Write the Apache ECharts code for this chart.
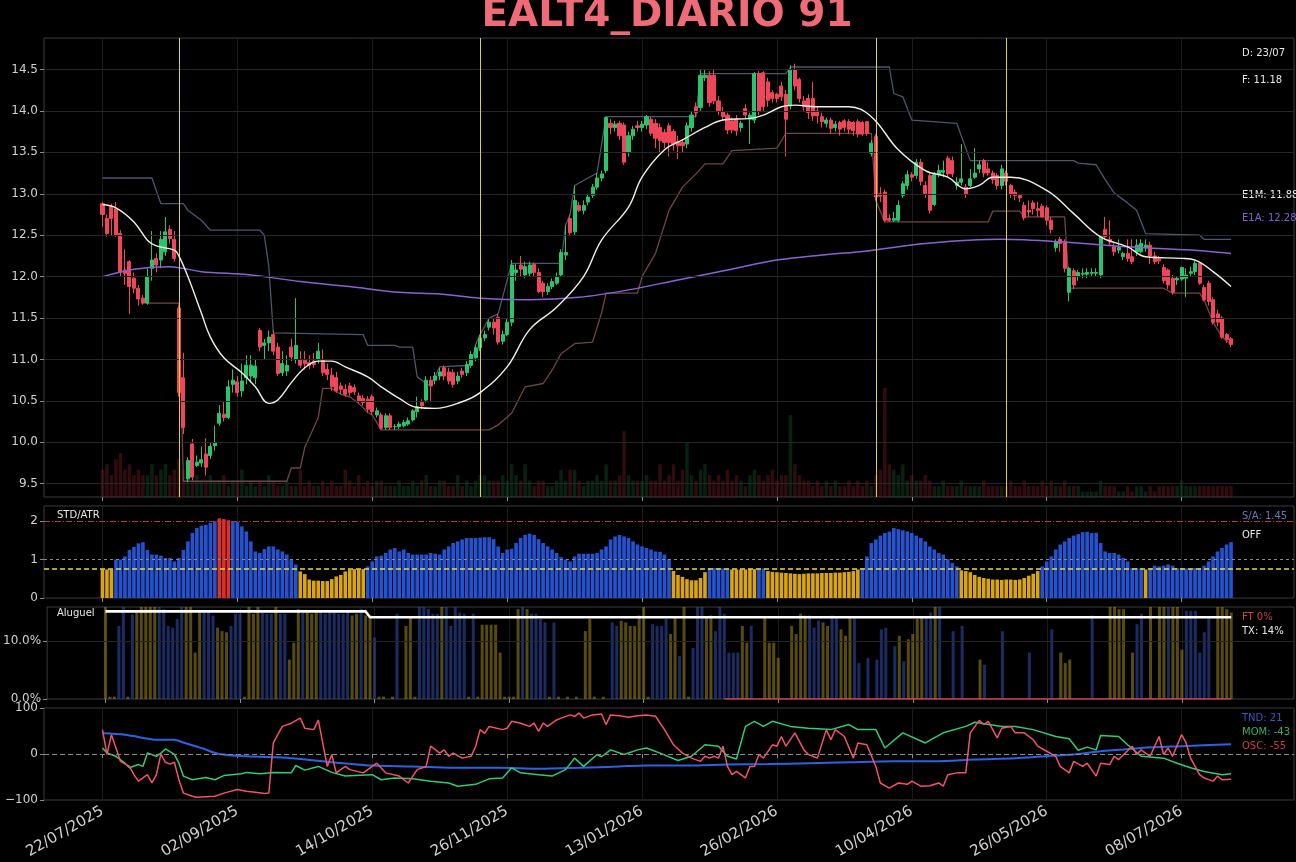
<!DOCTYPE html>
<html>
<head>
<meta charset="utf-8">
<script src="https://cdn.jsdelivr.net/npm/echarts@6/dist/echarts.min.js"></script>
<style>
html, body { margin: 0; padding: 0; background: #000; }
#main { width: 1296px; height: 862px; }
</style>
</head>
<body>
<div id="main"></div>
<script>
// feriados que a B3 pulou no periodo
var feriados = ['2025-11-20','2025-12-24','2025-12-25','2025-12-31','2026-01-01',
    '2026-02-16','2026-02-17','2026-04-03','2026-04-21','2026-05-01','2026-06-04'];
var inicio = '2025-07-22';
var nBarras = 252;

// [abertura, fechamento, minima, maxima]
var candles = [
    [12.88,12.75,12.60,12.90],[12.70,12.52,12.48,12.75],[12.85,12.70,12.50,12.88],[12.82,12.50,12.48,12.90],[12.52,12.05,12.00,12.56],
    [12.08,12.04,11.90,12.33],[12.18,11.88,11.55,12.20],[11.98,11.86,11.80,12.05],[11.86,11.73,11.65,11.90],[11.74,11.68,11.66,11.78],
    [11.68,12.00,11.66,12.10],[12.10,12.20,11.95,12.55],[12.22,12.14,12.05,12.28],[12.20,12.45,12.10,12.55],[12.30,12.54,12.25,12.72],
    [12.57,12.46,12.40,12.62],[12.45,12.22,12.18,12.55],[11.62,10.60,10.55,11.65],[10.78,10.18,10.10,11.08],[9.56,9.78,9.52,9.82],
    [9.98,9.58,9.54,10.04],[9.72,9.76,9.70,9.84],[9.75,9.79,9.70,9.95],[9.86,9.70,9.60,10.05],[9.84,9.95,9.80,10.00],
    [9.96,10.00,9.90,10.20],[10.23,10.35,10.20,10.45],[10.34,10.30,10.25,10.50],[10.30,10.67,10.28,10.75],[10.70,10.75,10.60,10.88],
    [10.73,10.60,10.55,10.80],[10.62,10.74,10.55,10.95],[10.78,10.93,10.70,11.05],[10.80,10.93,10.72,11.05],[10.78,10.92,10.70,11.00],
    [11.35,11.15,11.10,11.38],[11.17,11.20,11.00,11.25],[11.20,11.27,11.10,11.35],[11.30,11.10,11.05,11.35],[11.15,10.83,10.80,11.20],
    [10.84,10.95,10.80,11.10],[10.86,10.93,10.80,11.05],[11.15,11.03,10.98,11.25],[11.00,11.17,10.95,11.74],[11.00,10.93,10.90,11.10],
    [10.99,10.95,10.88,11.10],[10.96,10.93,10.88,11.05],[10.98,10.94,10.90,11.08],[11.00,11.10,10.95,11.20],[11.00,10.84,10.80,11.12],
    [10.88,10.82,10.75,10.95],[10.81,10.67,10.62,10.90],[10.78,10.62,10.60,10.85],[10.68,10.64,10.58,10.72],[10.64,10.58,10.55,10.70],
    [10.68,10.60,10.56,10.72],[10.66,10.61,10.57,10.70],[10.56,10.50,10.47,10.60],[10.53,10.48,10.44,10.57],[10.52,10.40,10.36,10.56],
    [10.55,10.37,10.33,10.58],[10.33,10.38,10.30,10.42],[10.33,10.17,10.15,10.36],[10.18,10.32,10.15,10.35],[10.32,10.18,10.15,10.35],
    [10.19,10.19,10.15,10.22],[10.19,10.22,10.16,10.25],[10.20,10.24,10.18,10.27],[10.22,10.26,10.20,10.30],[10.27,10.38,10.25,10.40],
    [10.37,10.43,10.30,10.55],[10.48,10.44,10.40,10.52],[10.51,10.75,10.48,10.80],[10.75,10.68,10.50,10.80],[10.75,10.80,10.70,10.85],
    [10.80,10.85,10.75,10.90],[10.90,10.80,10.75,10.93],[10.85,10.74,10.70,10.90],[10.84,10.70,10.66,10.88],[10.74,10.80,10.70,10.85],
    [10.86,10.82,10.78,10.90],[10.84,10.94,10.80,10.98],[10.93,11.06,10.90,11.10],[11.02,11.14,10.98,11.18],[11.14,11.26,11.10,11.30],
    [11.26,11.30,11.22,11.35],[11.39,11.45,11.35,11.50],[11.45,11.38,11.30,11.50],[11.51,11.21,11.18,11.55],[11.22,11.30,11.18,11.35],
    [11.30,11.45,11.28,11.50],[11.45,12.14,11.40,12.20],[12.05,12.08,11.95,12.15],[12.14,12.09,12.00,12.25],[12.02,12.12,11.98,12.18],
    [12.04,12.14,12.00,12.18],[12.15,12.05,12.00,12.17],[12.05,11.82,11.80,12.10],[11.92,11.82,11.75,11.95],[11.82,11.88,11.78,11.92],
    [11.88,11.94,11.85,11.98],[11.92,12.00,11.90,12.05],[12.02,12.29,12.00,12.33],[12.26,12.29,12.20,12.62],[12.70,12.53,12.50,12.75],
    [12.54,12.92,12.50,13.10],[12.86,12.80,12.78,12.90],[12.80,12.86,12.75,12.92],[12.90,12.96,12.86,13.00],[12.98,13.08,12.95,13.12],
    [13.08,13.19,13.05,13.25],[13.19,13.24,13.15,13.28],[13.28,13.92,13.25,13.93],[13.85,13.80,13.72,13.90],[13.80,13.84,13.75,13.88],
    [13.85,13.70,13.65,13.88],[13.83,13.38,13.35,13.86],[13.50,13.70,13.45,13.75],[13.70,13.78,13.65,13.82],[13.82,13.80,13.75,13.88],
    [13.80,13.84,13.75,13.88],[13.83,13.93,13.78,13.95],[13.90,13.73,13.70,13.93],[13.85,13.67,13.55,13.90],[13.80,13.64,13.50,13.85],
    [13.74,13.62,13.55,13.78],[13.82,13.62,13.45,13.85],[13.75,13.60,13.52,13.78],[13.63,13.58,13.42,13.70],[13.62,13.58,13.50,13.66],
    [13.60,13.82,13.55,13.86],[13.80,13.95,13.75,14.00],[14.05,13.98,13.92,14.10],[14.04,14.43,14.00,14.50],[14.40,14.43,14.36,14.50],
    [14.43,14.10,14.05,14.48],[14.43,14.12,14.08,14.50],[14.12,14.00,13.95,14.18],[13.99,13.93,13.88,14.05],[13.95,13.77,13.72,13.98],
    [13.88,13.77,13.73,13.92],[13.90,13.76,13.70,13.95],[13.80,13.85,13.75,13.88],[14.03,13.95,13.90,14.08],[13.90,13.95,13.60,13.98],
    [13.89,14.45,13.85,14.47],[14.45,14.00,13.95,14.48],[14.46,14.05,14.00,14.48],[14.35,14.13,14.05,14.40],[14.22,14.15,14.10,14.25],
    [14.20,14.15,14.10,14.22],[14.30,14.17,14.12,14.35],[14.20,13.90,13.45,14.25],[14.06,14.50,14.02,14.55],[14.50,14.30,14.25,14.57],
    [14.38,14.15,14.10,14.40],[14.12,14.05,14.00,14.18],[14.15,13.98,13.90,14.20],[14.15,13.94,13.88,14.35],[14.00,13.94,13.85,14.05],
    [13.93,13.87,13.80,13.98],[13.85,13.89,13.80,13.92],[13.89,13.79,13.72,13.92],[13.80,13.84,13.75,13.88],[13.86,13.78,13.70,13.88],
    [13.88,13.80,13.75,13.90],[13.87,13.78,13.72,13.90],[13.86,13.76,13.70,13.88],[13.87,13.72,13.68,13.90],[13.86,13.72,13.70,13.88],
    [13.87,13.73,13.70,13.88],[13.49,13.61,13.45,13.65],[13.69,12.96,12.92,13.72],[13.00,12.97,12.90,13.08],[13.02,12.68,12.66,13.05],
    [12.70,12.68,12.66,12.75],[12.68,12.70,12.66,12.78],[12.68,12.86,12.66,12.92],[12.98,13.12,12.95,13.15],[13.10,13.23,13.05,13.28],
    [13.23,13.20,13.15,13.26],[13.22,13.38,13.18,13.42],[13.38,13.15,13.10,13.42],[13.10,13.00,12.95,13.15],[13.22,12.80,12.76,13.25],
    [12.87,13.23,12.85,13.26],[13.23,13.28,13.20,13.35],[13.26,13.28,13.20,13.40],[13.43,13.24,13.20,13.46],[13.40,13.24,13.20,13.45],
    [13.10,13.14,13.05,13.20],[13.14,13.18,13.10,13.60],[13.08,12.99,12.95,13.12],[13.10,13.18,13.08,13.30],[13.20,13.25,13.18,13.55],
    [13.30,13.35,13.25,13.40],[13.40,13.25,13.20,13.42],[13.30,13.25,13.22,13.38],[13.25,13.17,13.12,13.28],[13.22,13.10,13.05,13.25],
    [13.10,13.30,13.05,13.35],[13.25,13.15,13.10,13.28],[13.10,12.99,12.95,13.12],[13.02,12.98,12.92,13.05],[12.98,12.95,12.90,13.00],
    [12.86,12.71,12.68,12.90],[12.80,12.78,12.72,12.92],[12.89,12.82,12.75,12.92],[12.82,12.80,12.72,12.90],[12.85,12.72,12.72,12.88],
    [12.83,12.68,12.62,12.86],[12.68,12.57,12.52,12.72],[12.35,12.42,12.30,12.45],[12.45,12.40,12.30,12.48],[12.42,12.10,12.05,12.45],
    [11.81,12.10,11.70,12.12],[12.07,11.90,11.85,12.10],[12.00,12.05,11.95,12.08],[12.03,12.04,11.98,12.10],[12.03,12.05,11.98,12.10],
    [12.04,12.05,12.00,12.10],[12.04,12.05,12.00,12.10],[12.02,12.48,11.98,12.50],[12.57,12.48,12.45,12.72],[12.45,12.42,12.38,12.68],
    [12.36,12.30,12.25,12.40],[12.32,12.35,12.28,12.45],[12.24,12.28,12.20,12.30],[12.28,12.22,12.18,12.45],[12.24,12.18,12.15,12.45],
    [12.30,12.38,12.25,12.45],[12.30,12.40,12.28,12.45],[12.35,12.38,12.30,12.45],[12.38,12.25,12.15,12.42],[12.25,12.18,12.15,12.30],
    [12.21,12.19,12.15,12.25],[12.11,11.95,11.92,12.15],[12.08,11.90,11.85,12.10],[11.98,11.81,11.78,12.02],[11.96,11.98,11.90,12.00],
    [11.97,12.11,11.95,12.12],[11.98,12.02,11.75,12.10],[12.04,12.06,12.00,12.12],[12.06,12.16,12.02,12.20],[12.16,11.92,11.90,12.18],
    [11.87,11.72,11.70,11.90],[11.92,11.70,11.65,11.95],[11.72,11.45,11.42,11.75],[11.55,11.45,11.40,11.60],[11.50,11.27,11.25,11.52],
    [11.30,11.24,11.20,11.32],[11.25,11.18,11.15,11.27]
];

var volume = [
    2.5,3,2,3.5,4,2.5,3,2,2.5,2,  2,3,2,2.5,3,2,2.5,3.5,2.5,2,  1.5,2,1.5,1.5,2,1.5,1.5,2,1,1.5,
    1.5,2.5,1,1.5,1,1.5,1,2,1.5,1,  1,1.5,1,1,2.5,1,1.5,1,1,1.5,  1,1.5,1,1,2.5,1.5,1,2,1,1.5,
    1,1.5,1.5,1,1,1,1.5,1,1,1.5,  1,1.5,2,1,1,1.5,1.5,1,1,2,  1,1.5,1,1.5,2,2,1.5,1.5,1.5,2,
    1.5,3,2,1.5,3,1.5,1,1.5,1.5,1,  1,1.5,2.5,1.5,2.5,2.5,1.5,1,1.5,1.5,  2,1.5,3,1.5,1.5,2,6,2,1.5,1.5,
    1.5,2,1.5,1.5,3,1.5,2,3,1.5,2.5,  5,2,1.5,2.5,3,2,1.5,2,1.5,2.5,  1.5,2,1.5,1,2,2.5,2,1.5,2,2.5,
    1.5,2,2,7.5,3,2,1.5,1.5,1,1.5,  1,1.5,1,1.5,1,1,1.5,1,1.5,1,  1.5,1,2,2.5,10,3,2.5,2,3,1.5,
    2,1.5,1.5,2,1.5,1,1,1.5,1,1,  1,1.5,1,1,1,1,1.5,1,1,1,  1,1,1.5,1,1,1.5,1,1,1,1.5,
    1,1.5,1,1,1.5,1,1,1,0.5,0.5,  0.5,0.5,1.5,1,1,1,0.5,0.5,1,0.5,  1,1,0.5,1,0.5,1,1,1,1,1,
    1.5,1,1,1,1,1,1,1,1,1,  1,1
];

var e1mPts = [[0,12.87],[3,12.83],[7,12.66],[10,12.44],[12,12.37],[16,12.32],[17,12.25],[19,12.0],[22,11.56],[24,11.27],
    [27,11.02],[31,10.84],[34,10.67],[37,10.47],[39,10.51],[42,10.72],[45,10.9],[48,10.98],[51,10.98],[54,10.91],
    [59,10.79],[62,10.67],[66,10.53],[70,10.42],[74,10.41],[80,10.49],[84,10.6],[90,10.91],[95,11.36],[101,11.63],
    [107,12.0],[111,12.44],[117,12.84],[120,13.2],[125,13.53],[129,13.65],[134,13.8],[138,13.89],[144,13.91],[147,13.95],
    [151,14.05],[154,14.07],[159,14.05],[166,14.05],[171,13.93],[177,13.53],[183,13.28],[188,13.2],[192,13.06],[195,13.1],
    [198,13.2],[202,13.2],[210,13.04],[216,12.76],[222,12.48],[228,12.36],[232,12.24],[240,12.22],[243,12.2],[247,12.06],[251,11.88]];
var e1aPts = [[0,12.0],[7,12.09],[15,12.12],[22,12.06],[33,12.02],[44,11.94],[55,11.88],[66,11.81],[75,11.79],[84,11.74],
    [95,11.72],[106,11.75],[117,11.84],[128,11.96],[139,12.08],[150,12.2],[160,12.26],[170,12.31],[183,12.4],[200,12.45],
    [213,12.42],[228,12.36],[242,12.32],[251,12.28]];
var topoPts = [[0,13.19],[11,13.19],[13,12.88],[18,12.88],[19,12.8],[22,12.68],[24,12.56],[35,12.56],[36,12.5],[37,12.12],
    [38,11.32],[58,11.3],[59,11.17],[65,11.17],[66,11.15],[69,11.15],[70,10.79],[72,10.71],[73,10.68],[75,10.91],
    [82,10.93],[83,11.18],[84,11.3],[86,11.5],[88,11.55],[91,12.16],[102,12.16],[103,12.62],[104,12.75],[105,13.1],
    [110,13.25],[112,13.93],[132,13.93],[133,14.45],[152,14.45],[153,14.53],[175,14.53],[176,14.21],[178,14.17],[180,13.89],
    [190,13.85],[193,13.4],[216,13.4],[217,13.37],[221,13.35],[223,13.17],[225,13.01],[228,12.89],[230,12.8],[232,12.52],
    [244,12.5],[245,12.45],[251,12.45]];
var fundoPts = [[10,11.68],[17,11.68],[18,9.53],[41,9.53],[42,9.69],[44,9.69],[45,9.94],[47,10.18],[48,10.3],[49,10.65],
    [51,10.65],[53,10.58],[55,10.55],[57,10.47],[59,10.36],[60,10.33],[62,10.15],[86,10.15],[88,10.21],[91,10.35],
    [94,10.67],[98,10.71],[100,10.87],[102,11.07],[105,11.19],[109,11.21],[111,11.56],[112,11.8],[119,11.8],[120,12.0],
    [123,12.28],[126,12.8],[129,13.08],[132,13.24],[134,13.36],[138,13.36],[140,13.52],[150,13.55],[152,13.73],[171,13.73],
    [172,12.92],[174,12.66],[197,12.66],[198,12.79],[204,12.79],[205,12.72],[214,12.72],[215,11.86],[236,11.86],[238,11.8],
    [244,11.8],[245,11.72],[247,11.45],[249,11.27],[251,11.18]];
var linhasVerticais = [16.6, 83.6, 171.6, 200.8];

var stdAtr = [
    0.74,0.74,0.74,1.0,1.0,1.08,1.25,1.33,1.42,1.45,  1.25,1.13,1.13,1.1,1.04,1.04,0.95,1.04,1.25,1.47,
    1.69,1.82,1.88,1.9,1.95,1.99,2.07,2.05,2.02,1.99,  1.98,1.86,1.73,1.47,1.21,1.17,1.27,1.34,1.34,1.26,
    1.21,1.13,1.0,0.87,0.69,0.62,0.48,0.45,0.45,0.44,  0.44,0.49,0.56,0.6,0.69,0.73,0.75,0.74,0.75,0.82,
    0.95,1.08,1.1,1.17,1.26,1.3,1.21,1.26,1.17,1.13,  1.13,1.13,1.13,1.17,1.15,1.13,1.26,1.34,1.43,1.47,
    1.52,1.56,1.56,1.56,1.57,1.58,1.58,1.53,1.34,1.17,  1.26,1.28,1.43,1.56,1.64,1.67,1.64,1.53,1.43,1.34,
    1.26,1.17,1.06,1.0,0.95,1.08,1.15,1.15,1.15,1.15,  1.17,1.26,1.34,1.52,1.6,1.64,1.6,1.56,1.47,1.39,
    1.34,1.3,1.26,1.21,1.2,1.13,1.01,0.7,0.6,0.55,  0.49,0.46,0.46,0.52,0.67,0.78,0.78,0.78,0.77,0.77,
    0.74,0.74,0.74,0.74,0.75,0.75,0.77,0.77,0.7,0.68,  0.67,0.66,0.65,0.64,0.63,0.62,0.63,0.64,0.64,0.64,
    0.65,0.65,0.65,0.66,0.66,0.67,0.68,0.7,0.74,0.78,  1.08,1.43,1.52,1.62,1.69,1.73,1.82,1.79,1.76,1.73,
    1.69,1.62,1.56,1.47,1.34,1.26,1.17,1.13,1.01,0.91,  0.82,0.72,0.7,0.67,0.6,0.55,0.52,0.5,0.48,0.48,
    0.47,0.48,0.48,0.47,0.48,0.52,0.58,0.63,0.7,0.82,  0.95,1.08,1.26,1.39,1.47,1.56,1.62,1.66,1.71,1.72,
    1.69,1.69,1.43,1.21,1.17,1.17,1.13,1.04,0.95,0.78,  0.78,0.77,0.74,0.78,0.84,0.82,0.84,0.87,0.84,0.78,
    0.78,0.77,0.77,0.78,0.78,0.84,0.95,1.08,1.21,1.3,  1.39,1.45
];

var aluguel = [
    16,0.4,0.4,12.6,16,0.4,14.6,14.9,16,16,  16,16,16,15.5,12.6,12.3,13.8,16,16,16,
    8,14.9,14.9,15.2,14.4,12.3,11.7,11.5,12.6,14.7,  14.7,0.4,16,14.7,16,14.9,14.7,14.7,16,14.7,
    14.7,6.8,9.7,15.5,14.9,14.9,14.7,14.9,14.9,14.7,  14.9,14.9,14.7,14.7,15.2,14.4,14.7,15.5,14.4,14.4,
    10.6,0.4,0.4,0,0.4,14.7,0,12.6,14.1,0.4,  16,16,15.5,14.7,14.7,16,16,12.6,16,14.9,
    14.7,0.4,14.7,0.4,12.8,12.8,12.8,12.8,8,0.4,  0.4,0.4,15.5,16,15.5,14.7,14.7,13.8,13.2,0.4,
    13.2,0.4,0,0.4,0,0.4,0,11.7,13.8,0.4,  0,0.4,0,13.2,12.6,13.5,13.2,12.6,12.6,14.4,
    16,0.4,12.9,12.6,12.6,13.8,11.2,14.1,7.4,16,  0.4,8.8,16,16,14.1,14.4,11.7,16,14.7,8,
    8,8,12.6,9.7,12.6,0,0,14.1,9.7,9.7,  7.1,0,0,12.6,11.2,14.7,14.4,14.4,12.3,13.5,
    13.2,12.6,14.4,14.1,12,10.9,14.1,14.1,6.2,0,  7.1,0,6.8,12,12.3,0,9.1,10.9,6.5,10.3,
    11.2,13.8,14.1,14.1,14.9,16,16,0,0,11.7,  0,12.6,0,0,0,6.8,5.9,0,0,0,
    11.7,0,0,0,0,0,8,0,0,0,  0,12,0,8,6.2,6.8,0,0,0,0,
    14.4,0,0,0,16,16,15.5,15.5,0,8,  12.9,14.7,0,16,0,16,16,16,16,16,
    8.5,15.2,15.2,15.2,8,11.5,14,0,16,16,  15.5,14.9
];
var aluguelTipo = ('yyybbybyyy' + 'yybbbbbbyy' + 'yybbbyyybb' + 'byyyybbbyb' + 'byyybyyybb' +
    'bbbbbyybyy' + 'byyyybyyyy' + 'bbbbbybbbb' + 'bybyyyyyyy' + 'yyybybbbby' +
    'byyyyyyyyy' + 'yyybbyyyyy' + 'yybbbbyyby' + 'ybbbyybbbb' + 'bbyybyyyyy' +
    'yyyyyyybbb' + 'yybbyyybby' + 'bybbbybyby' + 'yyybbybyyb' + 'ybyyyybyyy' +
    'byyyyybyyy' + 'ybyyyyyyyy' + 'byyyyyyyyy' + 'bbyyyyybyy' + 'ybbbbbbyyy' + 'yy').split('');
var taxaPts = [[0,15.1],[58,15.1],[59,14.1],[251,14.1]];
var ftPts = [[138,0],[251,0]];

var tndPts = [[0,45],[5,42],[8,37],[12,31],[16,31],[18,25],[22,13],[26,0],[32,-5],[42,-9],[51,-18],[60,-25],[69,-27],
    [78,-30],[88,-30],[97,-32],[106,-30],[115,-27],[121,-25],[130,-25],[139,-23],[148,-22],[157,-20],[166,-18],[176,-16],
    [185,-16],[194,-12],[203,-9],[210,-5],[217,0],[222,6],[226,9],[231,13],[240,17],[245,19],[251,21]];
var momPts = [[0,13],[1,2],[3,-5],[5,-20],[6,-30],[8,-23],[9,-27],[10,2],[12,-5],[13,2],[14,11],[16,-1],[17,-20],[18,-48],
    [20,-56],[23,-51],[25,-56],[27,-47],[31,-43],[32,-40],[35,-43],[38,-40],[42,-41],[43,-25],[45,-35],[48,-27],[51,-40],
    [54,-48],[56,-47],[60,-45],[62,-56],[65,-52],[69,-54],[73,-59],[77,-63],[79,-70],[83,-66],[86,-54],[89,-52],[91,-30],
    [93,-41],[97,-45],[100,-48],[103,-34],[105,-9],[107,-27],[110,-1],[111,-6],[113,9],[116,-1],[119,9],[121,13],[124,2],
    [128,-14],[131,-5],[134,20],[137,17],[139,-5],[141,-11],[143,60],[145,71],[147,60],[149,71],[153,60],[157,56],[162,53],
    [166,64],[168,53],[172,53],[174,13],[178,46],[183,24],[187,46],[192,60],[194,69],[200,60],[203,60],[207,53],[212,38],
    [215,33],[217,8],[219,15],[221,9],[222,40],[226,38],[228,20],[231,-5],[236,-9],[239,-20],[242,-30],[245,-38],[249,-45],[251,-43]];
var oscPts = [[0,53],[1,-1],[2,42],[4,-16],[6,-27],[7,-45],[8,-59],[10,-45],[11,-63],[12,-45],[13,0],[14,-18],[15,-22],
    [16,-18],[17,-56],[18,-85],[20,-92],[21,-94],[25,-92],[27,-85],[30,-77],[32,-81],[34,-83],[36,-86],[37,-85],[38,24],
    [40,60],[42,67],[44,78],[45,56],[47,53],[48,74],[50,-27],[51,-1],[52,-41],[54,-27],[55,-34],[58,-41],[61,-20],[63,-41],
    [66,-48],[68,-63],[70,-34],[72,-27],[73,17],[75,2],[76,9],[77,-5],[78,2],[80,-9],[82,-5],[83,17],[84,53],[85,45],
    [86,60],[89,53],[90,56],[91,71],[93,67],[95,60],[96,67],[97,49],[98,67],[99,60],[101,74],[102,78],[104,85],[105,82],
    [106,89],[107,78],[109,85],[111,87],[112,64],[113,85],[115,83],[117,80],[119,83],[121,85],[123,82],[125,53],[127,20],
    [129,2],[131,-9],[133,-16],[134,-5],[135,-9],[136,-5],[137,-9],[138,17],[139,-27],[140,-45],[141,-38],[143,-52],[144,-27],
    [145,-27],[146,-1],[147,-9],[149,20],[150,17],[151,38],[152,17],[154,46],[156,9],[157,-1],[158,-5],[159,-9],[161,53],
    [162,31],[163,53],[165,38],[167,-9],[168,24],[170,20],[172,-27],[173,-63],[175,-74],[177,-63],[179,-66],[180,-59],
    [182,-70],[184,-69],[186,-63],[187,-70],[188,-45],[190,-41],[192,-41],[193,46],[195,73],[196,64],[197,71],[199,35],
    [200,56],[202,60],[203,46],[205,46],[207,31],[208,17],[210,6],[212,-5],[213,-27],[215,-41],[216,-16],[218,-27],[219,-20],
    [221,-48],[222,-20],[224,-23],[225,-5],[226,-12],[229,17],[230,-1],[231,9],[233,-5],[235,38],[236,-1],[237,13],[238,-5],
    [240,42],[241,24],[242,-9],[244,-45],[245,-52],[247,-59],[248,-48],[249,-56],[251,-55]];

var precoTicks = [9.5, 10.0, 10.5, 11.0, 11.5, 12.0, 12.5, 13.0, 13.5, 14.0, 14.5];
var stdTicks = [0, 1, 2];
var aluguelTicks = [0, 10];

// ---- montagem ----
var PAD = 13, TAIL = 14;
var datas = [];
var d = new Date(inicio + 'T00:00:00Z');
while (datas.length < nBarras) {
    var iso = d.toISOString().slice(0, 10);
    var wd = d.getUTCDay();
    if (wd !== 0 && wd !== 6 && feriados.indexOf(iso) === -1) {
        datas.push(iso.slice(8, 10) + '/' + iso.slice(5, 7) + '/' + iso.slice(0, 4));
    }
    d.setUTCDate(d.getUTCDate() + 1);
}
var cats = [];
for (var i = 0; i < PAD; i++) cats.push('');
cats = cats.concat(datas);
for (var i = 0; i < TAIL; i++) cats.push('');

function padded(arr) {
    var out = [];
    for (var i = 0; i < PAD; i++) out.push('-');
    out = out.concat(arr);
    for (var i = 0; i < TAIL; i++) out.push('-');
    return out;
}
function put(pts) {
    return pts.map(function (p) { return [p[0] + PAD, p[1]]; });
}
function mostra(idx) {
    var k = idx - PAD;
    return k >= 0 && k < nBarras && k % 30 === 0;
}

var VERDE = '#2bc46d', VERMELHO = '#f0465a';
var volData = volume.map(function (v, i) {
    var sobe = candles[i][1] >= candles[i][0];
    return {value: v, itemStyle: {color: sobe ? 'rgba(30,120,70,0.28)' : 'rgba(160,35,50,0.3)'}};
});
var stdData = stdAtr.map(function (v) {
    var c = v > 2 ? '#e0302c' : (v < 0.76 ? '#d9a514' : '#2552cf');
    return {value: v, itemStyle: {color: c}};
});
var alugData = aluguel.map(function (v, i) {
    if (!v) return '-';
    var c = aluguelTipo[i] === 'y' ? 'rgba(175,150,30,0.5)' : 'rgba(50,80,180,0.55)';
    return {value: v, itemStyle: {color: c}};
});

var gradeH = precoTicks.map(function (v) { return {yAxis: v}; });
var verticais = linhasVerticais.map(function (v) { return {xAxis: v + PAD}; });

var corTexto = '#d0d0d0';
var fonte = 'DejaVu Sans';
var grids = [
    {left: 44, right: 2, top: 38, height: 459},
    {left: 44, right: 2, top: 506, height: 92},
    {left: 44, right: 2, top: 607, height: 92},
    {left: 44, right: 2, top: 708, height: 92}
].map(function (g) {
    g.show = true; g.borderColor = '#3c3c3c'; g.borderWidth = 1; g.backgroundColor = 'transparent';
    return g;
});

var xAxes = [0, 1, 2, 3].map(function (k) {
    return {
        type: 'category', gridIndex: k, data: cats, boundaryGap: false,
        axisLine: {show: false},
        axisTick: {show: true, interval: mostra, length: 4, lineStyle: {color: '#8a8a8a'}},
        axisLabel: {show: k === 3, interval: mostra, rotate: 30, fontSize: 15, color: corTexto,
            fontFamily: fonte, margin: 10},
        splitLine: {show: true, interval: mostra, lineStyle: {color: '#1b1b1b'}}
    };
});

function eixoY(k, min, max, ticks, fmt) {
    return {
        type: 'value', gridIndex: k, min: min, max: max,
        axisLine: {show: false},
        axisTick: {show: true, customValues: ticks, length: 4, lineStyle: {color: '#8a8a8a'}},
        axisLabel: {customValues: ticks, formatter: fmt, color: corTexto, fontSize: 12, fontFamily: fonte, margin: 6},
        splitLine: {show: false}
    };
}

var option = {
    backgroundColor: '#000',
    animation: false,
    grid: grids,
    xAxis: xAxes,
    yAxis: [
        eixoY(0, 9.34, 14.88, precoTicks, function (v) { return v.toFixed(1); }),
        {type: 'value', gridIndex: 0, min: 0, max: 42, show: false, splitLine: {show: false}},
        eixoY(1, 0, 2.39, stdTicks, function (v) { return String(v); }),
        eixoY(2, 0, 15.86, aluguelTicks, function (v) { return v.toFixed(1) + '%'; }),
        {
            type: 'value', gridIndex: 3, min: -100, max: 100, interval: 100,
            axisLine: {show: false},
            axisTick: {show: true, length: 4, lineStyle: {color: '#8a8a8a'}},
            axisLabel: {color: corTexto, fontSize: 12, fontFamily: fonte, margin: 6,
                formatter: function (v) { return v < 0 ? '\u2212' + (-v) : String(v); }},
            splitLine: {show: false}
        }
    ],
    graphic: [
        {type: 'text', x: 667, y: 16, z: 100, style: {text: 'EALT4_DIARIO 91', fill: '#f06b78',
            font: 'bold 39px DejaVu Sans', textAlign: 'center', textVerticalAlign: 'middle'}},
        {type: 'text', x: 1242, y: 53, style: {text: 'D: 23/07', fill: '#e8e8e8', font: '10px DejaVu Sans', textVerticalAlign: 'middle'}},
        {type: 'text', x: 1242, y: 80, style: {text: 'F: 11.18', fill: '#e8e8e8', font: '10px DejaVu Sans', textVerticalAlign: 'middle'}},
        {type: 'text', x: 1242, y: 195, style: {text: 'E1M: 11.88', fill: '#e8e8e8', font: '10px DejaVu Sans', textVerticalAlign: 'middle'}},
        {type: 'text', x: 1242, y: 218, style: {text: 'E1A: 12.28', fill: '#7e62c8', font: '10px DejaVu Sans', textVerticalAlign: 'middle'}},
        {type: 'text', x: 57, y: 515, style: {text: 'STD/ATR', fill: '#e8e8e8', font: '10px DejaVu Sans', textVerticalAlign: 'middle'}},
        {type: 'text', x: 1242, y: 516, style: {text: 'S/A: 1.45', fill: '#6878b8', font: '10px DejaVu Sans', textVerticalAlign: 'middle'}},
        {type: 'text', x: 1242, y: 535, style: {text: 'OFF', fill: '#e8e8e8', font: '10px DejaVu Sans', textVerticalAlign: 'middle'}},
        {type: 'text', x: 57, y: 613, style: {text: 'Aluguel', fill: '#e8e8e8', font: '10px DejaVu Sans', textVerticalAlign: 'middle'}},
        {type: 'text', x: 1242, y: 617, style: {text: 'FT 0%', fill: '#c8404e', font: '10px DejaVu Sans', textVerticalAlign: 'middle'}},
        {type: 'text', x: 1242, y: 631, style: {text: 'TX: 14%', fill: '#e8e8e8', font: '10px DejaVu Sans', textVerticalAlign: 'middle'}},
        {type: 'text', x: 1242, y: 718, style: {text: 'TND: 21', fill: '#3a58c0', font: '10px DejaVu Sans', textVerticalAlign: 'middle'}},
        {type: 'text', x: 1242, y: 732, style: {text: 'MOM: -43', fill: '#2fae6a', font: '10px DejaVu Sans', textVerticalAlign: 'middle'}},
        {type: 'text', x: 1242, y: 746, style: {text: 'OSC: -55', fill: '#c0404e', font: '10px DejaVu Sans', textVerticalAlign: 'middle'}}
    ],
    series: [
        // grade do preco e linhas verticais (so marcacoes)
        {
            type: 'line', xAxisIndex: 0, yAxisIndex: 0, data: put(e1aPts), symbol: 'none', silent: true, z: 0,
            lineStyle: {opacity: 0},
            markLine: {
                silent: true, symbol: 'none', label: {show: false}, animation: false,
                data: gradeH.map(function (m) { return Object.assign({lineStyle: {color: '#262626', width: 1, type: 'solid'}}, m); })
                    .concat(verticais.map(function (m) { return Object.assign({lineStyle: {color: '#d8cf4a', width: 1, type: 'solid'}}, m); }))
            }
        },
        {
            type: 'bar', xAxisIndex: 0, yAxisIndex: 1, data: padded(volData), barWidth: 3.5, z: 1, silent: true
        },
        {
            type: 'line', xAxisIndex: 0, yAxisIndex: 0, data: put(topoPts), symbol: 'none', z: 2,
            lineStyle: {color: '#4d5768', width: 1.3}
        },
        {
            type: 'line', xAxisIndex: 0, yAxisIndex: 0, data: put(fundoPts), symbol: 'none', z: 2,
            lineStyle: {color: '#6e4848', width: 1.3}
        },
        {
            type: 'candlestick', xAxisIndex: 0, yAxisIndex: 0, data: padded(candles), barWidth: 3.6, z: 3,
            itemStyle: {color: VERDE, color0: VERMELHO, borderColor: VERDE, borderColor0: VERMELHO, borderWidth: 1}
        },
        {
            type: 'line', xAxisIndex: 0, yAxisIndex: 0, data: put(e1aPts), symbol: 'none', smooth: 0.3, z: 4,
            lineStyle: {color: '#8a63d2', width: 1.5}
        },
        {
            type: 'line', xAxisIndex: 0, yAxisIndex: 0, data: put(e1mPts), symbol: 'none', smooth: 0.4, z: 5,
            lineStyle: {color: '#f2efe6', width: 1.4}
        },
        // STD/ATR
        {
            type: 'bar', xAxisIndex: 1, yAxisIndex: 2, data: padded(stdData), barWidth: 3.6, z: 2,
            markLine: {
                silent: true, symbol: 'none', label: {show: false},
                data: [
                    {yAxis: 2, lineStyle: {color: '#b8344e', width: 1, type: [6, 2, 1, 2]}},
                    {yAxis: 1, lineStyle: {color: '#8a8a8a', width: 1, type: [3, 3]}},
                    {yAxis: 0.75, lineStyle: {color: '#e6dc3c', width: 1.5, type: [5, 3]}}
                ]
            }
        },
        // Aluguel
        {
            type: 'bar', xAxisIndex: 2, yAxisIndex: 3, data: padded(alugData), barWidth: 3, z: 2,
            markLine: {
                silent: true, symbol: 'none', label: {show: false},
                data: [{yAxis: 10, lineStyle: {color: '#262626', width: 1, type: 'solid'}}]
            }
        },
        {
            type: 'line', xAxisIndex: 2, yAxisIndex: 3, data: put(taxaPts), symbol: 'none', z: 4,
            lineStyle: {color: '#ffffff', width: 2.6}
        },
        {
            type: 'line', xAxisIndex: 2, yAxisIndex: 3, data: put(ftPts), symbol: 'none', z: 4,
            lineStyle: {color: '#e0405a', width: 1.5}
        },
        // TND / MOM / OSC
        {
            type: 'line', xAxisIndex: 3, yAxisIndex: 4, data: put(tndPts), symbol: 'none', smooth: 0.3, z: 3,
            lineStyle: {color: '#2f62e0', width: 2},
            markLine: {
                silent: true, symbol: 'none', label: {show: false},
                data: [{yAxis: 0, lineStyle: {color: '#8a8a8a', width: 1, type: [5, 3]}}]
            }
        },
        {
            type: 'line', xAxisIndex: 3, yAxisIndex: 4, data: put(momPts), symbol: 'none', z: 3,
            lineStyle: {color: '#2fcb76', width: 1.5}
        },
        {
            type: 'line', xAxisIndex: 3, yAxisIndex: 4, data: put(oscPts), symbol: 'none', z: 3,
            lineStyle: {color: '#f2526a', width: 1.5}
        }
    ]
};

var chart = echarts.init(document.getElementById('main'));
chart.setOption(option);
</script>
</body>
</html>
